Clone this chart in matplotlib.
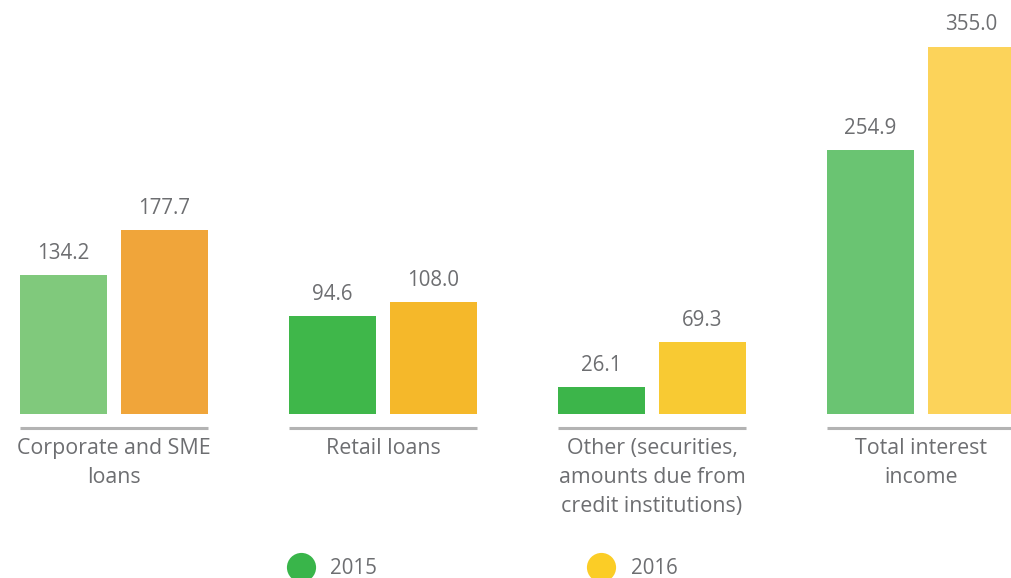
import numpy as np
import matplotlib
matplotlib.use("Agg")
import matplotlib.pyplot as plt
from matplotlib.lines import Line2D

plt.rcParams['font.family'] = ['Open Sans', 'DejaVu Sans']

#* data
categories = ["Corporate and SME\nloans", "Retail loans",
              "Other (securities,\namounts due from\ncredit institutions)",
              "Total interest\nincome"]
years = ["2015", "2016"]
vals_2015 = [134.2, 94.6, 26.1, 254.9]
vals_2016 = [177.7, 108.0, 69.3, 355.0]

#* bars are watercolour textured in the original, one tone per bar here
col_2015 = ["#80c97c", "#3fb74a", "#3cb54a", "#6ac472"]
col_2016 = ["#f0a53a", "#f5b82a", "#f8ca33", "#fcd35a"]
legend_cols = ["#39b54a", "#fbcd26"]
txt_col = "#6d6e71"

fig = plt.figure(figsize=(10.11, 5.78), dpi=100)
ax = fig.add_axes([0, 164/578, 1, 414/578])

x = np.arange(len(categories))
w = 0.323
off = 0.188
ax.bar(x - off, vals_2015, width=w, color=col_2015, linewidth=0)
ax.bar(x + off, vals_2016, width=w, color=col_2016, linewidth=0)

for ii in range(len(categories)):
    ax.text(x[ii] - off, vals_2015[ii] + 11, f"{vals_2015[ii]:.1f}",
            ha='center', va='bottom', fontsize=14.8, color=txt_col)
    ax.text(x[ii] + off, vals_2016[ii] + 11, f"{vals_2016[ii]:.1f}",
            ha='center', va='bottom', fontsize=14.8, color=txt_col)
    #* grey rule under each group
    ax.plot([x[ii] - off - w/2, x[ii] + off + w/2], [-13.5, -13.5],
            color="#b3b3b3", lw=2.2, clip_on=False, solid_capstyle='butt')
    ax.text(x[ii], -23, categories[ii], ha='center', va='top',
            fontsize=15.4, color=txt_col, linespacing=1.5)

ax.set_xlim(-114/269, (1011-114)/269)
ax.set_ylim(0, 400)
ax.axis('off')

handles = [Line2D([], [], marker='o', ls='', ms=21, color=c, markeredgewidth=0)
           for c in legend_cols]
fig.legend(handles, years, loc='center left', bbox_to_anchor=(280/1011, 1 - 569/578),
           ncol=2, frameon=False, fontsize=14.8, labelcolor=txt_col,
           handletextpad=0.45, columnspacing=9.9, borderpad=0, borderaxespad=0)

fig.savefig("out.png", dpi=100)
